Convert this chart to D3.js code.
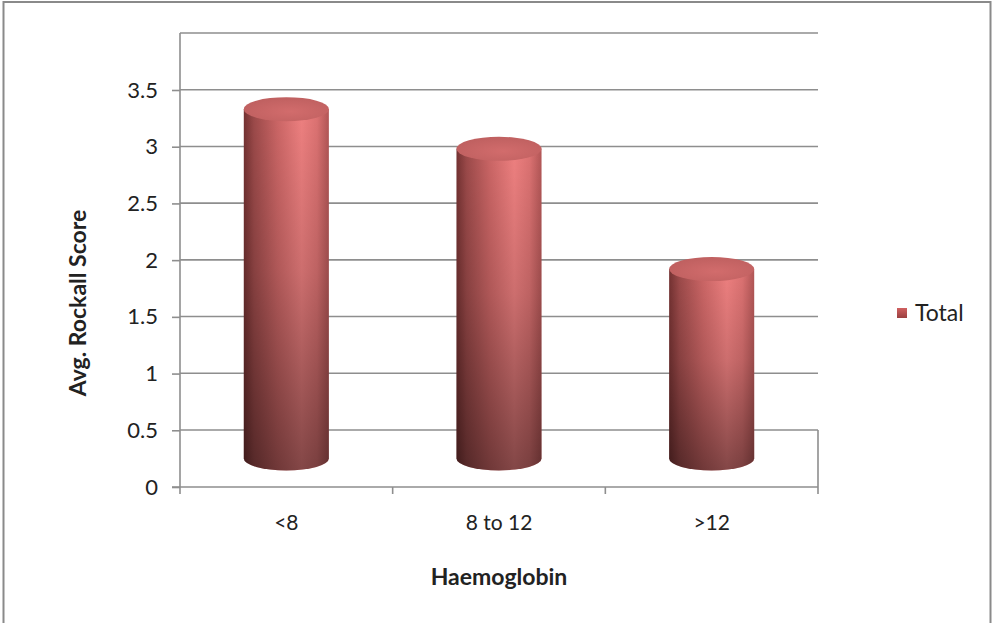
<!DOCTYPE html>
<html>
<head>
<meta charset="utf-8">
<script src="https://cdn.jsdelivr.net/npm/d3@7"></script>
<style>
  html, body { margin: 0; padding: 0; background: #fff; }
  svg { display: block; }
  text { font-family: Lato, "Open Sans", "Liberation Sans", sans-serif; fill: #222; }
</style>
</head>
<body>
<svg id="chart" width="992" height="623"></svg>
<script>
// Average Rockall score by haemoglobin band
const categories = ["<8", "8 to 12", ">12"];
const totals = [3.08, 2.73, 1.67];
const yTicks = [0, 0.5, 1, 1.5, 2, 2.5, 3, 3.5];
const seriesName = "Total";
const xTitle = "Haemoglobin";
const yTitle = "Avg. Rockall Score";

const svg = d3.select("#chart");

// plot geometry
const plotLeft = 180, plotRight = 818;
const floorFront = 487, axisTop = 90;
const depth = 57;              // vertical shift from front axis to back wall

const x = d3.scaleBand().domain(categories).range([plotLeft, plotRight]).paddingInner(0).paddingOuter(0);
const y = d3.scaleLinear().domain([0, 3.5]).range([floorFront, axisTop]);

const grid = "#8e8e8e";
const defs = svg.append("defs");

// cylinder body: dark left edge, highlight right of centre
const side = defs.append("linearGradient").attr("id", "side").attr("x1", 0).attr("x2", 1).attr("y1", 0).attr("y2", 0);
[[0, "#743232"], [0.12, "#9c4a4a"], [0.4, "#cc6666"], [0.68, "#ee8080"], [0.86, "#dc7272"], [1, "#b25656"]]
  .forEach(([o, c]) => side.append("stop").attr("offset", o).attr("stop-color", c));
// darkening towards the base
const shade = defs.append("linearGradient").attr("id", "shade").attr("x1", 0).attr("x2", 0).attr("y1", 0).attr("y2", 1);
[[0, "#000", 0], [0.45, "#000", 0.14], [1, "#000", 0.45]]
  .forEach(([o, c, a]) => shade.append("stop").attr("offset", o).attr("stop-color", c).attr("stop-opacity", a));
// cylinder top
const topG = defs.append("radialGradient").attr("id", "topg").attr("cx", 0.55).attr("cy", 0.6).attr("r", 0.7);
[[0, "#d26c6c"], [1, "#bc5e5e"]].forEach(([o, c]) => topG.append("stop").attr("offset", o).attr("stop-color", c));
// legend swatch
const key = defs.append("linearGradient").attr("id", "key").attr("x1", 0).attr("x2", 0).attr("y1", 0).attr("y2", 1);
[[0, "#d06060"], [1, "#9a4040"]].forEach(([o, c]) => key.append("stop").attr("offset", o).attr("stop-color", c));

// chart area border
svg.append("rect").attr("x", 3.5).attr("y", 2).attr("width", 987).attr("height", 640)
  .attr("fill", "none").attr("stroke", "#8a8a8a").attr("stroke-width", 2);

// back wall gridlines
svg.append("g").selectAll("line").data(yTicks).join("line")
  .attr("x1", plotLeft).attr("x2", plotRight)
  .attr("y1", d => y(d) - depth).attr("y2", d => y(d) - depth)
  .attr("stroke", grid).attr("stroke-width", 1.6);

// back wall left edge + floor outline
svg.append("line").attr("x1", plotLeft).attr("x2", plotLeft)
  .attr("y1", y(3.5) - depth).attr("y2", y(0)).attr("stroke", grid).attr("stroke-width", 1.6);
svg.append("line").attr("x1", plotRight).attr("x2", plotRight)
  .attr("y1", y(0) - depth).attr("y2", y(0)).attr("stroke", grid).attr("stroke-width", 1.6);

// front value axis
const yAxis = d3.axisLeft(y).tickValues(yTicks).tickSize(8).tickPadding(14).tickFormat(d3.format("~g"));
const gy = svg.append("g").attr("transform", `translate(${plotLeft},0)`).call(yAxis);
gy.select(".domain").remove();
gy.selectAll(".tick line").attr("stroke", grid).attr("stroke-width", 1.6);
gy.selectAll(".tick text").style("font-size", "22px").attr("fill", "#222");

// front category axis
const xAxis = d3.axisBottom(x).tickSize(0).tickPadding(28);
const gx = svg.append("g").attr("transform", `translate(0,${floorFront})`).call(xAxis);
gx.select(".domain").remove();
gx.selectAll(".tick text").style("font-size", "21px").attr("fill", "#222");
svg.append("line").attr("x1", plotLeft - 8).attr("x2", plotRight)
  .attr("y1", floorFront).attr("y2", floorFront).attr("stroke", grid).attr("stroke-width", 1.6);
const bounds = categories.map(c => x(c)).concat([plotRight]);
svg.append("g").selectAll("line").data(bounds).join("line")
  .attr("x1", d => d).attr("x2", d => d).attr("y1", floorFront).attr("y2", floorFront + 7)
  .attr("stroke", grid).attr("stroke-width", 1.6);

// cylinders, standing at mid depth
const rw = x.bandwidth() * 0.2;   // horizontal radius
const ry = 12;                    // vertical radius of the ellipses
const bars = svg.append("g").selectAll("g").data(categories.map((c, i) => ({ c, v: totals[i] }))).join("g");
const cylPath = d => {
  const cx = x(d.c) + x.bandwidth() / 2;
  const yt = y(d.v) - depth / 2, yb = y(0) - depth / 2;
  return `M${cx - rw},${yt} L${cx - rw},${yb} A${rw},${ry} 0 0 0 ${cx + rw},${yb} L${cx + rw},${yt} Z`;
};
bars.append("path").attr("d", cylPath).attr("fill", "url(#side)");
bars.append("path").attr("d", cylPath).attr("fill", "url(#shade)");
bars.append("ellipse")
  .attr("cx", d => x(d.c) + x.bandwidth() / 2)
  .attr("cy", d => y(d.v) - depth / 2)
  .attr("rx", rw).attr("ry", ry)
  .attr("fill", "url(#topg)");

// axis titles
svg.append("text").attr("x", (plotLeft + plotRight) / 2).attr("y", 585)
  .attr("text-anchor", "middle").style("font-size", "23px").style("font-weight", "bold").text(xTitle);
svg.append("text").attr("transform", "translate(86,303) rotate(-90)")
  .attr("text-anchor", "middle").style("font-size", "23px").style("font-weight", "bold").text(yTitle);

// legend
const lg = svg.append("g").attr("transform", "translate(897,308)");
lg.append("rect").attr("width", 10).attr("height", 10).attr("fill", "url(#key)");
lg.append("text").attr("x", 18).attr("y", 13).style("font-size", "23px").text(seriesName);
</script>
</body>
</html>
